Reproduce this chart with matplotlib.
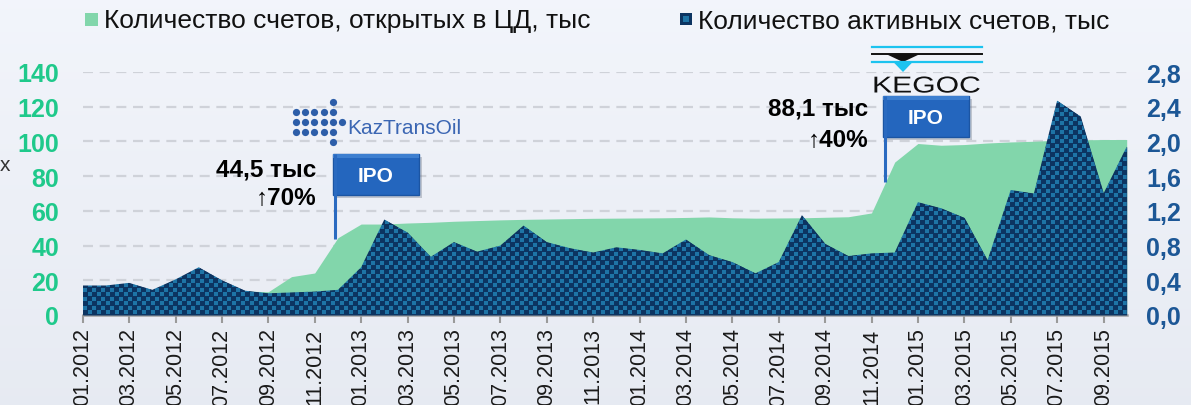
import numpy as np
import matplotlib
matplotlib.use("Agg")
import matplotlib.pyplot as plt
from matplotlib.patches import Rectangle, Polygon, PathPatch
from matplotlib.textpath import TextPath
from matplotlib.font_manager import FontProperties
from matplotlib.transforms import Affine2D

plt.rcParams['font.family'] = ['Liberation Sans', 'DejaVu Sans']

W, H = 1191, 406

# monthly points 01.2012 .. 10.2015
months = [f"{m:02d}.{y}" for y in range(2012, 2016) for m in range(1, 13)][:46]

# accounts opened in the central depository, thousands (left axis)
opened = [16.5, 16.5, 18.0, 14.2, 20.4, 27.0, 19.5, 13.8, 13.4, 22.1,
          24.2, 44.5, 52.4, 52.4, 53.0, 53.4, 54.0, 54.4, 54.8, 55.1,
          55.3, 55.5, 55.7, 55.8, 55.9, 56.0, 56.2, 56.5, 56.0, 55.8,
          55.9, 56.0, 56.3, 56.6, 58.8, 88.1, 98.8, 97.8, 98.2, 99.1,
          99.7, 100.1, 100.7, 100.9, 101.1, 101.1]

# active accounts (right axis)
active = [0.34, 0.34, 0.37, 0.29, 0.41, 0.55, 0.40, 0.28, 0.25, 0.26,
          0.27, 0.29, 0.55, 1.10, 0.95, 0.67, 0.84, 0.73, 0.80, 1.03,
          0.84, 0.77, 0.72, 0.78, 0.75, 0.71, 0.87, 0.69, 0.61, 0.48,
          0.61, 1.15, 0.82, 0.68, 0.71, 0.72, 1.30, 1.23, 1.12, 0.63,
          1.44, 1.40, 2.47, 2.29, 1.40, 1.94]

left_ticks = [0, 20, 40, 60, 80, 100, 120, 140]
right_ticks = [0.0, 0.4, 0.8, 1.2, 1.6, 2.0, 2.4, 2.8]

legend_labels = ["Количество счетов, открытых в ЦД, тыс",
                 "Количество активных счетов, тыс"]

GREEN = "#82d6ab"
NAVY = "#0c3461"
SQUARE = "#1e74a6"

fig = plt.figure(figsize=(W / 100, H / 100), dpi=100)

# soft background
bg = fig.add_axes([0, 0, 1, 1], zorder=-5)
grad = np.linspace(0, 1, 200)[:, None]
c_top = np.array([0.95, 0.96, 0.985])
c_bot = np.array([0.905, 0.92, 0.95])
bg.imshow(c_top + (c_bot - c_top) * grad[..., None], aspect="auto",
          extent=[0, 1, 0, 1], origin="upper")
bg.axis("off")

x = np.arange(len(months))
ax1 = fig.add_axes([82.7 / W, 90 / H, 1044 / W, 243 / H])
ax1.patch.set_visible(False)
ax1.fill_between(x, opened, color=GREEN, lw=0, zorder=2)
ax1.set_xlim(0, 45)
ax1.set_ylim(0, 140)
ax1.set_yticks(left_ticks)
ax1.set_yticklabels([str(t) for t in left_ticks])
ax1.tick_params(axis="y", length=0, pad=17, labelsize=18, labelcolor="#1fc98b")
for lab in ax1.get_yticklabels():
    lab.set_fontweight("bold")
ax1.set_axisbelow(True)
ax1.yaxis.grid(True, color="#cfd2d9", lw=1.6, linestyle=(0, (4.5, 3)))
ax1.set_xticks(x[::2])
ax1.set_xticklabels(months[::2], rotation=90, fontsize=15.5, color="#1a1a1a")
ax1.tick_params(axis="x", length=6, width=1.5, color="#9a9a9a", pad=3)
for s in ["top", "left", "right"]:
    ax1.spines[s].set_visible(False)
ax1.spines["bottom"].set_color("#a0a0a0")
ax1.spines["bottom"].set_linewidth(1.8)

ax2 = ax1.twinx()
ax2.patch.set_visible(False)
coll = ax2.fill_between(x, active, color=NAVY, lw=0, zorder=3)
# checkered texture inside the active-accounts area
yy, xx = np.mgrid[0:243, 0:1044]
P = 9
mask = ((xx % P < 4) & (yy % P < 4)) | (((xx + 4) % P < 4) & ((yy + 5) % P < 4))
tex = np.empty((243, 1044, 3))
tex[:] = matplotlib.colors.to_rgb(NAVY)
tex[mask] = matplotlib.colors.to_rgb(SQUARE)
im = ax2.imshow(tex, extent=[0, 45, 0, 2.8], origin="upper", aspect="auto",
                interpolation="nearest", zorder=4)
im.set_clip_path(coll.get_paths()[0], ax2.transData)
ax2.set_xlim(0, 45)
ax2.set_ylim(0, 2.8)
ax2.set_yticks(right_ticks)
ax2.set_yticklabels([f"{t:.1f}".replace(".", ",") for t in right_ticks])
ax2.tick_params(axis="y", length=0, pad=14, labelsize=18, labelcolor="#1c5796")
for lab in ax2.get_yticklabels():
    lab.set_fontweight("bold")
for s in ["top", "left", "right", "bottom"]:
    ax2.spines[s].set_visible(False)

# overlay in pixel coordinates for legend, logos and flags
ov = fig.add_axes([0, 0, 1, 1], zorder=10)
ov.set_xlim(0, W)
ov.set_ylim(H, 0)
ov.axis("off")

# legend
ov.add_patch(Rectangle((85, 14), 13, 13, color=GREEN, lw=0))
ov.text(104, 21, legend_labels[0], fontsize=19, va="center", color="#111")
ov.add_patch(Rectangle((680, 14), 12, 12, color=NAVY, lw=0))
ov.add_patch(Rectangle((683, 17), 6, 6, color=SQUARE, lw=0))
ov.text(698, 21, legend_labels[1], fontsize=19, va="center", color="#111")

ov.text(0, 166, "х", fontsize=15, va="center", ha="left", color="#333")

# KazTransOil logo
rows = [(102.7, [4]), (112.7, [0, 1, 2, 3, 4]), (123.3, [0, 1, 2, 3, 4, 5]),
        (133.3, [0, 1, 2, 3, 4]), (143.3, [4])]
cols = [296, 305.3, 314.3, 323.5, 332.8, 342.2]
for yv, cs in rows:
    ov.plot([cols[c] for c in cs], [yv] * len(cs), "o", ms=5.2, color="#2d5ea9", mew=0)
ov.text(347, 129, "KazTransOil", fontsize=15, va="center", ha="left", color="#3b66b3")

# KEGOC logo
ov.plot([872, 982], [47.5, 47.5], color="#1cc3ef", lw=1.6)
ov.plot([872, 982], [55, 55], color="#111", lw=1.4)
ov.plot([872, 982], [62.7, 62.7], color="#1cc3ef", lw=1.6)
ov.add_patch(Polygon([(886, 55), (920, 55), (903, 63)], closed=True, color="#111", lw=0))
ov.add_patch(Polygon([(893, 62.7), (913, 62.7), (903, 73)], closed=True, color="#1cc3ef", lw=0))
tp = TextPath((0, 0), "KEGOC", size=23, prop=FontProperties(family="Liberation Sans"))
tr = Affine2D().scale(1.31, -1).translate(872, 93.5) + ov.transData
ov.add_patch(PathPatch(tp, transform=tr, color="#111", lw=0))


def flag(px, py_bottom, top, width=86, height=41):
    ov.add_patch(Rectangle((px + 3, top + 3), width, height, color="#6a7384",
                           alpha=0.35, lw=0))
    ov.add_patch(Rectangle((px, top), width, height, facecolor="#2466be",
                           edgecolor="#1b55a3", lw=1))
    ov.add_patch(Rectangle((px, top), width, 4, color="#3d7fd0", lw=0))
    ov.plot([px + 1.5, px + 1.5], [top, py_bottom], color="#2a6ac0", lw=2.2,
            solid_capstyle="butt")
    ov.text(px + width / 2, top + height / 2 + 1, "IPO", fontsize=15, fontweight="bold",
            color="white", ha="center", va="center")


flag(333, 240, 155)
flag(883, 183, 97)

ov.text(316, 170, "44,5 тыс", fontsize=17.5, fontweight="bold", ha="right", va="center")
ov.text(316, 199, "↑70%", fontsize=17.5, fontweight="bold", ha="right", va="center")
ov.text(868, 109, "88,1 тыс", fontsize=17.5, fontweight="bold", ha="right", va="center")
ov.text(868, 141, "↑40%", fontsize=17.5, fontweight="bold", ha="right", va="center")

fig.savefig("out.png", dpi=100)
